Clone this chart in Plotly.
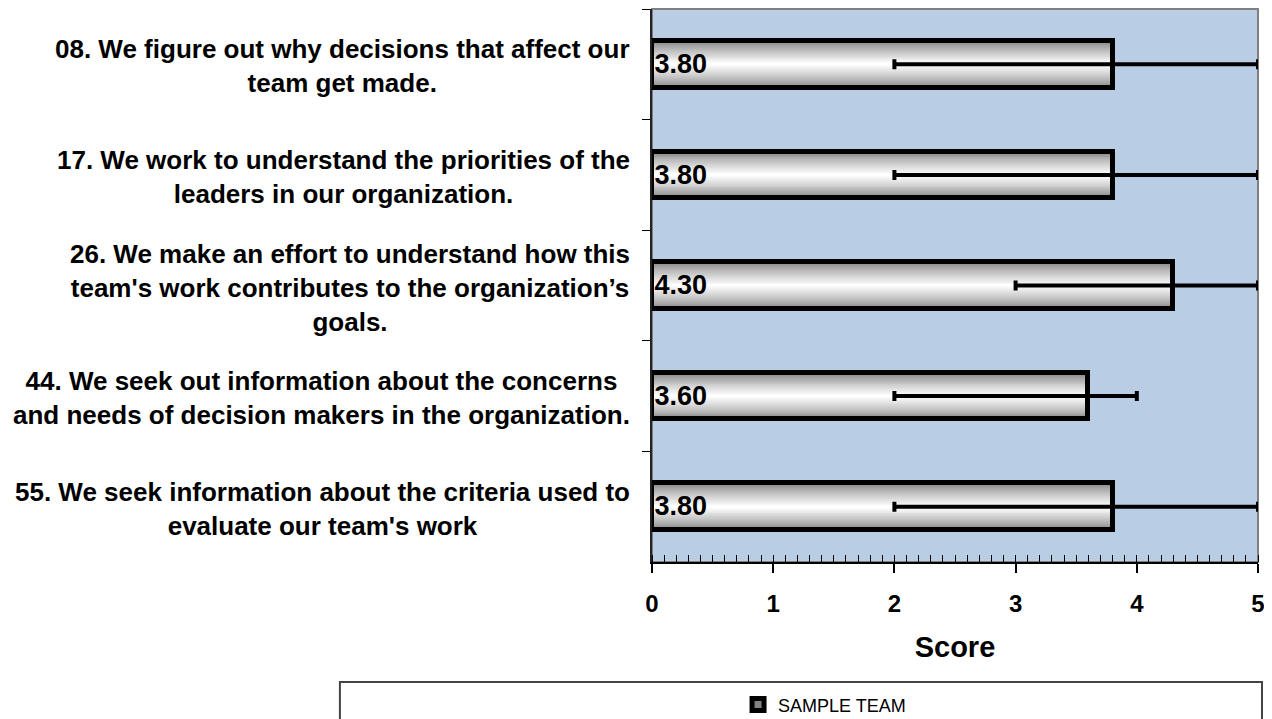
import plotly.graph_objects as go

# survey items, top to bottom
items = [
    "08. We figure out why decisions that affect our<br>team get made.",
    "17. We work to understand the priorities of the<br>leaders in our organization.",
    "26. We make an effort to understand how this<br>team's work contributes to the organization’s<br>goals.",
    "44. We seek out information about the concerns<br>and needs of decision makers in the organization.",
    "55. We seek information about the criteria used to<br>evaluate our team's work",
]
scores = [3.80, 3.80, 4.30, 3.60, 3.80]
score_min = [2, 2, 3, 2, 2]
score_max = [5, 5, 5, 4, 5]
series_name = "SAMPLE TEAM"

FONT = "Liberation Sans, Arial, sans-serif"
BAR_W = 0.42

fig = go.Figure()

# fake a vertical gradient by stacking narrower, lighter bars
n_layers = 24
for k in range(n_layers):
    t = k / (n_layers - 1)
    g = int(130 + (255 - 130) * t ** 0.8)
    fig.add_trace(go.Bar(
        y=items, x=scores, orientation="h",
        width=BAR_W * (1 - k / n_layers),
        marker=dict(color=f"rgb({g},{g},{g})",
                    line=dict(color="black", width=5 if k == 0 else 0)),
        name=series_name, showlegend=(k == 0),
        hoverinfo="skip",
    ))

# outline, value labels and min/max whiskers on top
fig.add_trace(go.Bar(
    y=items, x=scores, orientation="h", width=BAR_W,
    marker=dict(color="rgba(0,0,0,0)", line=dict(color="black", width=5)),
    text=[f"{v:.2f}" for v in scores],
    textposition="inside", insidetextanchor="start", constraintext="none",
    textfont=dict(family=FONT, size=27, color="black", weight="bold"),
    error_x=dict(type="data", symmetric=False,
                 array=[hi - v for hi, v in zip(score_max, scores)],
                 arrayminus=[v - lo for lo, v in zip(score_min, scores)],
                 color="black", thickness=4, width=5),
    showlegend=False,
))

for it in items:
    fig.add_annotation(x=-0.033, xref="paper", y=it, yref="y", yshift=-2,
                       text=it, showarrow=False, xanchor="right", align="center",
                       font=dict(family=FONT, size=26, color="black", weight="bold"))

# page body has an 8px margin, so the figure is 8px smaller than the window
fig.update_layout(
    width=1264, height=711,
    margin=dict(l=644, r=14, t=1, b=157),
    barmode="overlay", bargap=0,
    plot_bgcolor="#B9CDE5", paper_bgcolor="white",
    font=dict(family=FONT, color="black"),
    xaxis=dict(range=[0, 5], dtick=1, showgrid=False, zeroline=False,
               showline=True, linecolor="black", linewidth=2,
               ticks="outside", ticklen=9, tickwidth=2, tickcolor="black",
               minor=dict(dtick=0.1, ticks="inside", ticklen=7, tickwidth=1, tickcolor="black"),
               tickfont=dict(size=24, weight="bold"), ticklabelstandoff=10,
               title=dict(text="Score", font=dict(size=29, weight="bold"), standoff=21)),
    yaxis=dict(type="category", autorange="reversed", showticklabels=False,
               showgrid=False, showline=True, linecolor="#222", linewidth=2,
               ticks="outside", tickson="boundaries", ticklen=8, tickcolor="black"),
    legend=dict(orientation="h", xref="container", x=0.646, xanchor="center",
                yref="container", y=0.02, yanchor="middle",
                bgcolor="rgba(0,0,0,0)", font=dict(size=18)),
    shapes=[
        dict(type="rect", xref="paper", yref="paper", x0=-0.515, x1=1.0066, y0=-0.4, y1=-0.217,
             line=dict(color="#444", width=2)),
        dict(type="rect", xref="paper", yref="paper", x0=0, x1=1, y0=0, y1=1,
             line=dict(color="#808080", width=2), layer="below"),
    ],
)

fig.write_html("out.html")
